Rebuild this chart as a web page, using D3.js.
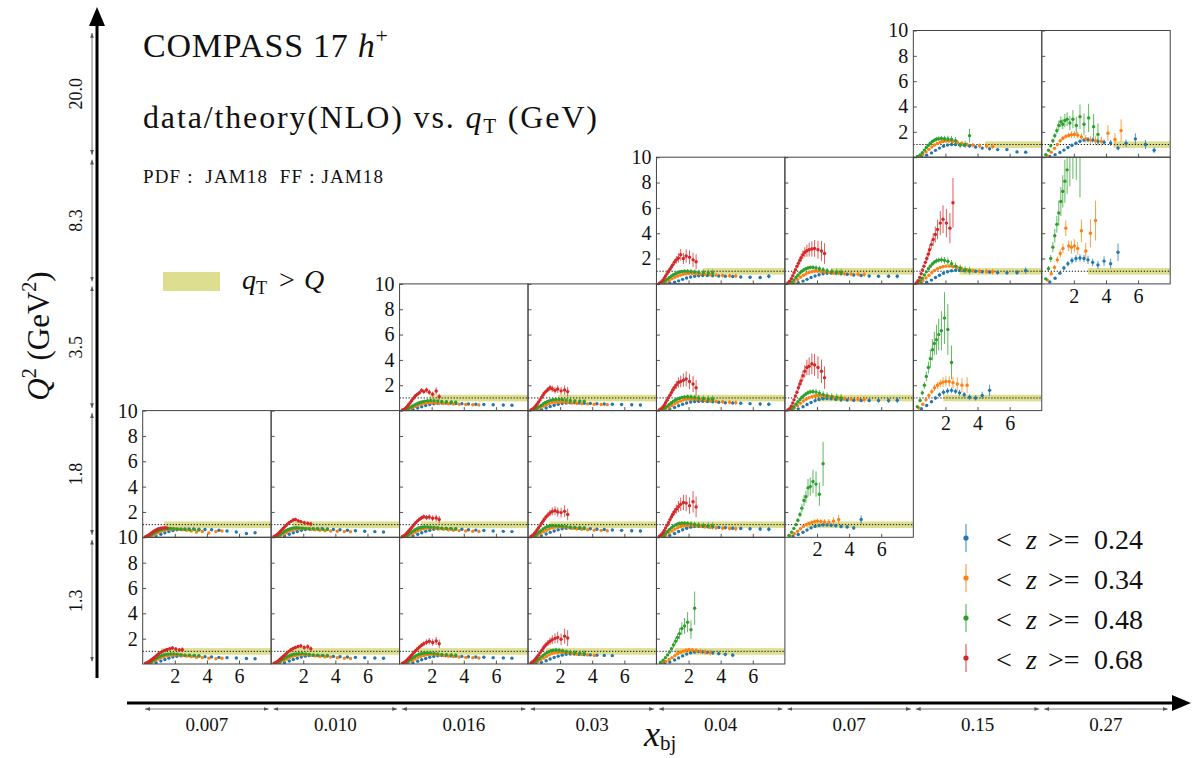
<!DOCTYPE html>
<html>
<head>
<meta charset="utf-8">
<script src="https://cdn.jsdelivr.net/npm/d3@7"></script>
<style>
  body { margin: 0; background: #fff; }
  svg { display: block; }
  text { font-family: 'Liberation Serif', 'DejaVu Serif', serif; fill: #111; }
</style>
</head>
<body>
<svg id="chart" width="1192" height="758"></svg>
<script>
// bins of the grid
const xbjBins = ['0.007', '0.010', '0.016', '0.03', '0.04', '0.07', '0.15', '0.27']
const q2Bins = ['1.3', '1.8', '3.5', '8.3', '20.0']
const q2Values = [1.3, 1.8, 3.5, 8.3, 20.0]
const zLabels = ['0.24', '0.34', '0.48', '0.68']
const zColors = ['#1f77b4', '#ff7f0e', '#2ca02c', '#d62728']
const yTicks = [2, 4, 6, 8, 10]
const xTicks = [2, 4, 6]

// qT (GeV) of the points, one grid per <z> bin
const qtBlue = [0.5, 0.83, 1.13, 1.38, 1.63, 1.88, 2.13, 2.38, 2.63, 2.88, 3.17, 3.5, 3.88, 4.29, 4.75, 5.25, 5.83, 6.46, 7.0]
const qtOrange = [0.35, 0.59, 0.79, 0.97, 1.15, 1.32, 1.5, 1.68, 1.85, 2.03, 2.24, 2.47, 2.74, 3.03, 3.35, 3.71, 4.12, 4.56, 4.94]
const qtGreen = [0.25, 0.42, 0.56, 0.69, 0.81, 0.94, 1.06, 1.19, 1.31, 1.44, 1.58, 1.75, 1.94, 2.15, 2.38, 2.63, 2.92, 3.23, 3.5]
const qtRed = [0.18, 0.29, 0.4, 0.49, 0.57, 0.66, 0.75, 0.84, 0.93, 1.01, 1.12, 1.24, 1.37, 1.51, 1.68, 1.85, 2.06, 2.28, 2.47]

// relative uncertainties per point
const relErrBlue = [0.06, 0.05, 0.04, 0.04, 0.04, 0.04, 0.04, 0.04, 0.04, 0.05, 0.05, 0.06, 0.06, 0.07, 0.08, 0.09, 0.1, 0.12, 0.14]
const relErrOrange = [0.06, 0.05, 0.04, 0.04, 0.04, 0.04, 0.04, 0.04, 0.05, 0.05, 0.05, 0.06, 0.07, 0.08, 0.09, 0.1, 0.11, 0.12, 0.14]
const relErrGreen = [0.06, 0.05, 0.04, 0.04, 0.04, 0.04, 0.05, 0.05, 0.05, 0.06, 0.06, 0.07, 0.08, 0.09, 0.1, 0.11, 0.12, 0.14, 0.16]
const relErrRed = [0.06, 0.05, 0.05, 0.05, 0.05, 0.05, 0.05, 0.06, 0.06, 0.07, 0.07, 0.08, 0.09, 0.1, 0.11, 0.12, 0.13, 0.15, 0.17]

// data/theory, [blue, orange, green, red] for each panel
const q13x007 = [
  [0.04, 0.12, 0.24, 0.36, 0.46, 0.55, 0.61, 0.65, 0.67, 0.66, 0.64, 0.62, 0.58, 0.56, 0.52, 0.5, 0.47, 0.44, 0.42],
  [0.06, 0.16, 0.28, 0.4, 0.5, 0.58, 0.64, 0.68, 0.7, 0.72, 0.7, 0.66, 0.62, 0.58, 0.52, 0.5, 0.46, 0.42, 0.45],
  [0.05, 0.13, 0.22, 0.32, 0.42, 0.52, 0.6, 0.67, 0.72, 0.76, 0.78, 0.8, 0.8, 0.78, 0.74, 0.7, 0.7, 0.68, 0.66],
  [0.06, 0.12, 0.2, 0.28, 0.36, 0.45, 0.54, 0.64, 0.74, 0.82, 0.92, 1.0, 1.06, 1.14, 1.2, 1.26, 1.18, 1.1, 1.12]
]
const q13x010 = [
  [0.04, 0.12, 0.24, 0.36, 0.46, 0.55, 0.62, 0.66, 0.68, 0.67, 0.66, 0.63, 0.6, 0.57, 0.55, 0.52, 0.5, 0.47, 0.45],
  [0.06, 0.16, 0.28, 0.4, 0.5, 0.6, 0.66, 0.7, 0.73, 0.74, 0.72, 0.68, 0.64, 0.6, 0.56, 0.55, 0.5, 0.46, 0.44],
  [0.05, 0.14, 0.24, 0.34, 0.44, 0.54, 0.62, 0.69, 0.74, 0.78, 0.8, 0.82, 0.82, 0.8, 0.76, 0.72, 0.7, 0.68, 0.68],
  [0.06, 0.13, 0.21, 0.3, 0.39, 0.49, 0.59, 0.7, 0.8, 0.9, 1.02, 1.12, 1.22, 1.3, 1.38, 1.42, 1.3, 1.36, 1.2]
]
const q13x016 = [
  [0.04, 0.11, 0.22, 0.34, 0.44, 0.54, 0.6, 0.65, 0.67, 0.66, 0.64, 0.62, 0.6, 0.57, 0.55, 0.53, 0.5, 0.48, 0.46],
  [0.06, 0.15, 0.27, 0.39, 0.5, 0.6, 0.67, 0.72, 0.75, 0.76, 0.74, 0.7, 0.66, 0.62, 0.58, 0.55, 0.52, 0.5, 0.47],
  [0.05, 0.14, 0.25, 0.36, 0.47, 0.58, 0.67, 0.75, 0.8, 0.84, 0.86, 0.87, 0.86, 0.84, 0.8, 0.76, 0.74, 0.72, 0.7],
  [0.06, 0.14, 0.24, 0.34, 0.45, 0.57, 0.69, 0.82, 0.95, 1.06, 1.2, 1.34, 1.48, 1.6, 1.72, 1.8, 1.7, 1.82, 1.6]
]
const q13x03 = [
  [0.05, 0.13, 0.26, 0.4, 0.52, 0.62, 0.7, 0.76, 0.78, 0.78, 0.76, 0.74, 0.72, 0.7, 0.68, 0.66],
  [0.07, 0.18, 0.32, 0.46, 0.6, 0.72, 0.82, 0.88, 0.92, 0.92, 0.9, 0.86, 0.82, 0.78, 0.74, 0.72, 0.68],
  [0.06, 0.16, 0.28, 0.42, 0.56, 0.68, 0.8, 0.9, 0.98, 1.04, 1.08, 1.1, 1.08, 1.04, 0.98, 0.94, 0.9, 0.86, 0.84],
  [0.08, 0.18, 0.3, 0.43, 0.57, 0.72, 0.88, 1.04, 1.2, 1.36, 1.52, 1.66, 1.8, 1.92, 2.02, 2.1, 1.95, 2.2, 2.05]
]
const q13x04 = [
  [0.06, 0.16, 0.32, 0.48, 0.64, 0.78, 0.88, 0.94, 0.98, 0.96, 0.92, 0.88, 0.82, 0.76, 0.7],
  [0.08, 0.2, 0.35, 0.5, 0.66, 0.8, 0.92, 1.02, 1.08, 1.12, 1.1, 1.06, 1.0, 0.95, 0.9],
  [0.12, 0.3, 0.5, 0.72, 0.95, 1.2, 1.5, 1.8, 2.1, 2.4, 2.8, 3.0, 3.3, 2.7, 4.4],
  []
]
const q18x007 = [
  [0.04, 0.12, 0.24, 0.36, 0.46, 0.54, 0.6, 0.64, 0.66, 0.66, 0.66, 0.64, 0.62, 0.6, 0.56, 0.5, 0.42, 0.3, 0.36],
  [0.05, 0.14, 0.26, 0.38, 0.48, 0.56, 0.62, 0.64, 0.66, 0.66, 0.64, 0.6, 0.56, 0.5, 0.42, 0.46, 0.34, 0.46, 0.5],
  [0.04, 0.12, 0.22, 0.32, 0.42, 0.5, 0.57, 0.62, 0.66, 0.68, 0.7, 0.7, 0.68, 0.66, 0.64, 0.62, 0.6, 0.62, 0.58],
  [0.05, 0.12, 0.2, 0.28, 0.36, 0.44, 0.52, 0.58, 0.64, 0.68, 0.72, 0.74, 0.76, 0.74]
]
const q18x010 = [
  [0.04, 0.12, 0.24, 0.36, 0.46, 0.55, 0.61, 0.66, 0.68, 0.68, 0.67, 0.65, 0.62, 0.6, 0.56, 0.52, 0.48, 0.45, 0.42],
  [0.05, 0.14, 0.26, 0.38, 0.5, 0.58, 0.64, 0.68, 0.7, 0.7, 0.68, 0.64, 0.6, 0.56, 0.52, 0.5, 0.48, 0.45, 0.44],
  [0.04, 0.12, 0.22, 0.33, 0.44, 0.54, 0.62, 0.68, 0.72, 0.74, 0.75, 0.74, 0.72, 0.7, 0.68, 0.66, 0.65, 0.64, 0.62],
  [0.06, 0.14, 0.24, 0.35, 0.46, 0.58, 0.7, 0.82, 0.94, 1.04, 1.16, 1.26, 1.36, 1.4, 1.3, 1.24, 1.16, 1.1, 1.05]
]
const q18x016 = [
  [0.04, 0.12, 0.24, 0.36, 0.47, 0.56, 0.63, 0.67, 0.69, 0.69, 0.68, 0.66, 0.63, 0.6, 0.57, 0.54, 0.5, 0.47, 0.45],
  [0.05, 0.15, 0.27, 0.4, 0.52, 0.61, 0.68, 0.72, 0.74, 0.74, 0.72, 0.68, 0.64, 0.6, 0.56, 0.53, 0.5, 0.48, 0.46],
  [0.04, 0.13, 0.24, 0.36, 0.47, 0.58, 0.66, 0.73, 0.78, 0.8, 0.82, 0.82, 0.8, 0.78, 0.75, 0.72, 0.7, 0.68, 0.67],
  [0.06, 0.15, 0.26, 0.38, 0.5, 0.63, 0.76, 0.9, 1.04, 1.16, 1.3, 1.42, 1.54, 1.62, 1.56, 1.6, 1.5, 1.52, 1.4]
]
const q18x03 = [
  [0.04, 0.13, 0.26, 0.39, 0.5, 0.6, 0.67, 0.72, 0.74, 0.74, 0.72, 0.7, 0.67, 0.64, 0.61, 0.58, 0.55, 0.52, 0.5],
  [0.05, 0.16, 0.3, 0.44, 0.56, 0.66, 0.74, 0.79, 0.82, 0.82, 0.8, 0.76, 0.72, 0.68, 0.64, 0.6, 0.57, 0.55, 0.52],
  [0.05, 0.14, 0.27, 0.4, 0.53, 0.65, 0.75, 0.83, 0.88, 0.91, 0.92, 0.92, 0.9, 0.87, 0.84, 0.8, 0.77, 0.75, 0.73],
  [0.07, 0.17, 0.3, 0.44, 0.59, 0.75, 0.92, 1.1, 1.26, 1.42, 1.6, 1.76, 1.92, 2.04, 2.1, 2.0, 1.95, 2.05, 1.8]
]
const q18x04 = [
  [0.05, 0.15, 0.3, 0.46, 0.6, 0.72, 0.8, 0.85, 0.87, 0.87, 0.85, 0.82, 0.78, 0.75, 0.72, 0.7, 0.68, 0.66, 0.64],
  [0.06, 0.18, 0.34, 0.5, 0.64, 0.76, 0.85, 0.91, 0.94, 0.95, 0.93, 0.9, 0.86, 0.82, 0.78, 0.75, 0.72, 0.7, 0.68],
  [0.05, 0.16, 0.3, 0.46, 0.62, 0.76, 0.88, 0.98, 1.05, 1.1, 1.12, 1.12, 1.1, 1.06, 1.02, 0.98, 0.94, 0.92, 0.9],
  [0.08, 0.2, 0.36, 0.54, 0.74, 0.95, 1.16, 1.38, 1.6, 1.8, 2.02, 2.22, 2.42, 2.6, 2.75, 2.7, 2.5, 2.8, 2.4]
]
const q18x07 = [
  [0.08, 0.22, 0.4, 0.58, 0.74, 0.86, 0.94, 0.98, 0.98, 0.95, 0.92, 0.86, 0.82, 0.74, 1.4],
  [0.1, 0.28, 0.48, 0.68, 0.86, 1.0, 1.1, 1.18, 1.24, 1.28, 1.26, 1.22, 1.2, 1.28, 1.4],
  [0.15, 0.4, 0.7, 1.0, 1.35, 1.8, 2.3, 2.9, 3.2, 3.9, 4.0, 4.4, 4.2, 3.4, 5.8],
  []
]
const q35x016 = [
  [0.03, 0.1, 0.2, 0.3, 0.4, 0.48, 0.54, 0.58, 0.6, 0.6, 0.58, 0.56, 0.55, 0.52, 0.5, 0.48, 0.46, 0.44, 0.42],
  [0.04, 0.12, 0.22, 0.32, 0.42, 0.5, 0.56, 0.6, 0.62, 0.62, 0.6, 0.58, 0.56, 0.54, 0.52, 0.5, 0.48, 0.46, 0.45],
  [0.04, 0.1, 0.18, 0.27, 0.36, 0.45, 0.53, 0.6, 0.66, 0.71, 0.75, 0.78, 0.8, 0.78, 0.76, 0.72, 0.7, 0.68, 0.66],
  [0.05, 0.12, 0.22, 0.35, 0.48, 0.62, 0.78, 0.94, 1.08, 1.2, 1.3, 1.42, 1.6, 1.5, 1.62, 1.45, 1.3, 1.55, 1.1]
]
const q35x03 = [
  [0.03, 0.1, 0.21, 0.32, 0.42, 0.5, 0.56, 0.6, 0.62, 0.62, 0.6, 0.58, 0.56, 0.54, 0.52, 0.5, 0.48, 0.46, 0.44],
  [0.04, 0.13, 0.24, 0.35, 0.46, 0.55, 0.62, 0.66, 0.68, 0.68, 0.66, 0.63, 0.6, 0.58, 0.55, 0.53, 0.5, 0.48, 0.47],
  [0.04, 0.11, 0.2, 0.3, 0.41, 0.52, 0.62, 0.7, 0.77, 0.82, 0.86, 0.88, 0.88, 0.86, 0.83, 0.8, 0.77, 0.75, 0.73],
  [0.05, 0.13, 0.24, 0.38, 0.52, 0.68, 0.86, 1.04, 1.22, 1.38, 1.52, 1.66, 1.8, 1.72, 1.6, 1.7, 1.56, 1.62, 1.5]
]
const q35x04 = [
  [0.04, 0.12, 0.24, 0.38, 0.5, 0.6, 0.68, 0.72, 0.74, 0.74, 0.72, 0.7, 0.66, 0.62, 0.6, 0.58, 0.55, 0.52, 0.5],
  [0.05, 0.14, 0.26, 0.4, 0.54, 0.66, 0.76, 0.84, 0.9, 0.92, 0.92, 0.88, 0.84, 0.8, 0.76, 0.72, 0.7, 0.66, 0.62],
  [0.05, 0.13, 0.24, 0.36, 0.5, 0.62, 0.74, 0.84, 0.92, 0.98, 1.04, 1.08, 1.1, 1.08, 1.04, 1.0, 0.96, 0.92, 0.9],
  [0.06, 0.15, 0.28, 0.44, 0.62, 0.82, 1.02, 1.22, 1.42, 1.62, 1.82, 2.02, 2.22, 2.3, 2.4, 2.5, 2.3, 2.1, 1.8]
]
const q35x07 = [
  [0.04, 0.14, 0.3, 0.48, 0.64, 0.78, 0.88, 0.94, 0.96, 0.94, 0.9, 0.86, 0.84, 0.82, 0.8, 0.8, 0.8, 0.8, 0.82],
  [0.06, 0.2, 0.38, 0.58, 0.76, 0.9, 1.02, 1.1, 1.16, 1.2, 1.2, 1.16, 1.1, 1.04, 0.98, 0.94, 0.92, 0.9, 0.88],
  [0.05, 0.15, 0.3, 0.5, 0.7, 0.88, 1.05, 1.2, 1.32, 1.42, 1.48, 1.5, 1.46, 1.38, 1.28, 1.18, 1.1, 1.04, 1.0],
  [0.05, 0.15, 0.35, 0.6, 0.85, 1.15, 1.45, 1.8, 2.1, 2.35, 2.75, 3.1, 3.4, 3.5, 3.7, 3.6, 3.4, 3.1, 2.6]
]
const q35x15 = [
  [0.15, 0.4, 0.7, 1.0, 1.25, 1.45, 1.55, 1.6, 1.52, 1.4, 1.25, 1.05, 1.0, 1.2, 1.6],
  [0.2, 0.5, 0.85, 1.2, 1.5, 1.8, 2.0, 2.15, 2.25, 2.3, 2.3, 2.2, 2.1, 2.0, 2.0],
  [0.3, 0.8, 1.4, 2.0, 2.7, 3.4, 4.1, 4.8, 5.3, 5.6, 6.0, 6.3, 7.3, 6.4, 3.8],
  []
]
const q83x04 = [
  [0.02, 0.06, 0.14, 0.24, 0.36, 0.46, 0.54, 0.6, 0.64, 0.66, 0.66, 0.64, 0.62, 0.6, 0.58, 0.55, 0.52, 0.5, 0.6],
  [0.05, 0.14, 0.26, 0.4, 0.52, 0.62, 0.7, 0.76, 0.8, 0.82, 0.82, 0.8, 0.76, 0.74, 0.72, 0.7, 0.66, 0.64, 0.62],
  [0.05, 0.14, 0.26, 0.38, 0.5, 0.62, 0.72, 0.8, 0.88, 0.94, 0.98, 1.0, 1.0, 0.98, 0.95, 0.92, 0.9, 0.88, 0.86],
  [0.06, 0.16, 0.3, 0.46, 0.62, 0.8, 0.98, 1.16, 1.34, 1.5, 1.72, 1.9, 2.05, 2.3, 2.0, 2.2, 2.1, 1.9, 1.75]
]
const q83x07 = [
  [0.03, 0.1, 0.22, 0.36, 0.5, 0.62, 0.72, 0.8, 0.84, 0.86, 0.86, 0.82, 0.76, 0.7, 0.66, 0.62, 0.6, 0.6, 0.6],
  [0.05, 0.18, 0.34, 0.52, 0.68, 0.8, 0.9, 0.96, 1.0, 1.0, 0.98, 0.94, 0.9, 0.86, 0.84, 0.8, 0.78, 0.76, 0.74],
  [0.05, 0.16, 0.32, 0.5, 0.68, 0.86, 1.0, 1.12, 1.2, 1.26, 1.3, 1.3, 1.26, 1.2, 1.12, 1.04, 0.98, 0.94, 0.9],
  [0.08, 0.22, 0.42, 0.64, 0.88, 1.12, 1.38, 1.62, 1.86, 2.06, 2.3, 2.5, 2.62, 2.7, 2.76, 2.8, 2.7, 2.6, 2.4]
]
const q83x15 = [
  [0.04, 0.14, 0.3, 0.5, 0.68, 0.84, 0.96, 1.04, 1.08, 1.08, 1.06, 1.02, 1.0, 0.96, 0.94, 0.9, 0.88, 0.9, 1.05],
  [0.08, 0.25, 0.46, 0.68, 0.88, 1.06, 1.2, 1.3, 1.36, 1.4, 1.4, 1.36, 1.3, 1.2, 1.1, 1.04, 1.0, 0.98, 0.96],
  [0.08, 0.25, 0.45, 0.7, 0.95, 1.2, 1.4, 1.58, 1.72, 1.82, 1.88, 1.9, 1.86, 1.78, 1.6, 1.4, 1.25, 1.12, 1.05],
  [0.08, 0.25, 0.5, 0.8, 1.1, 1.4, 1.7, 2.0, 2.35, 2.7, 3.1, 3.5, 3.9, 4.3, 4.8, 5.1, 4.8, 4.4, 6.4]
]
const q83x27 = [
  [0.15, 0.45, 0.85, 1.25, 1.6, 1.85, 2.0, 2.05, 2.0, 1.9, 1.7, 1.5, 1.8, 1.6, 2.5],
  [0.3, 0.8, 1.3, 1.9, 2.4, 2.8, 4.4, 3.0, 2.9, 3.0, 2.8, 4.2, 2.6, 4.0, 5.0],
  [0.4, 1.2, 2.0, 2.9, 3.8, 4.7, 5.6, 6.5, 7.3, 8.1, 9.0, 10.2, 11.5, 12.0, 10.5],
  []
]
const q20x15 = [
  [0.04, 0.16, 0.34, 0.54, 0.72, 0.86, 0.96, 1.0, 1.0, 0.98, 0.94, 0.88, 0.8, 0.72, 0.66, 0.6, 0.6, 0.42, 0.4],
  [0.06, 0.22, 0.42, 0.62, 0.8, 0.96, 1.08, 1.18, 1.24, 1.28, 1.28, 1.24, 1.18, 1.1, 1.0, 0.95, 0.9, 0.88, 0.85],
  [0.05, 0.18, 0.36, 0.56, 0.76, 0.94, 1.1, 1.24, 1.34, 1.42, 1.46, 1.48, 1.46, 1.44, 1.4, 1.3, 0.95, 1.0, 1.7],
  []
]
const q20x27 = [
  [0.05, 0.2, 0.38, 0.56, 0.76, 0.94, 1.1, 1.25, 1.35, 1.38, 1.35, 1.25, 1.18, 1.12, 0.72, 1.1, 1.45, 1.0, 0.55],
  [0.1, 0.4, 0.7, 1.0, 1.3, 1.5, 1.64, 1.72, 1.78, 1.8, 1.74, 1.6, 1.45, 1.35, 1.3, 1.25, 1.9, 1.4, 2.1],
  [0.2, 0.55, 0.9, 1.3, 1.7, 2.1, 2.5, 2.8, 2.6, 2.9, 3.0, 2.7, 3.0, 2.5, 3.2, 2.6, 3.1, 2.4, 1.8],
  []
]

// panel table: row = Q² bin, col = x_bj bin, err = uncertainty scale of that bin
const panels = [
  { row: 0, col: 0, err: 1, data: q13x007 },
  { row: 0, col: 1, err: 1, data: q13x010 },
  { row: 0, col: 2, err: 1.2, data: q13x016 },
  { row: 0, col: 3, err: 1.8, data: q13x03 },
  { row: 0, col: 4, err: 3, data: q13x04 },
  { row: 1, col: 0, err: 1, data: q18x007 },
  { row: 1, col: 1, err: 1, data: q18x010 },
  { row: 1, col: 2, err: 1.2, data: q18x016 },
  { row: 1, col: 3, err: 1.5, data: q18x03 },
  { row: 1, col: 4, err: 2, data: q18x04 },
  { row: 1, col: 5, err: 3, data: q18x07 },
  { row: 2, col: 2, err: 1.2, data: q35x016 },
  { row: 2, col: 3, err: 1.5, data: q35x03 },
  { row: 2, col: 4, err: 2, data: q35x04 },
  { row: 2, col: 5, err: 2, data: q35x07 },
  { row: 2, col: 6, err: 3.5, data: q35x15 },
  { row: 3, col: 4, err: 2, data: q83x04 },
  { row: 3, col: 5, err: 2, data: q83x07 },
  { row: 3, col: 6, err: 1.8, data: q83x15 },
  { row: 3, col: 7, err: 3.5, data: q83x27 },
  { row: 4, col: 6, err: 2, data: q20x15 },
  { row: 4, col: 7, err: 3, data: q20x27 }
]

const qtGrids = [qtBlue, qtOrange, qtGreen, qtRed]
const relErrs = [relErrBlue, relErrOrange, relErrGreen, relErrRed]

const svg = d3.select('#chart')

const colX = d3.scaleLinear().domain([0, 8]).range([142.7, 1170.2])
const rowY = d3.scaleLinear().domain([0, 5]).range([664, 30.5])
const pw = colX(1) - colX(0)
const ph = rowY(0) - rowY(1)
const x = d3.scaleLinear().domain([0, 8]).range([0, pw])
const y = d3.scaleLinear().domain([0, 10]).range([ph, 0])

// first panel of each row gets y labels, lowest of each column gets x labels
const firstCol = {}
const lowestRow = {}
panels.forEach((p) => {
  firstCol[p.row] = Math.min(firstCol[p.row] ?? 99, p.col)
  lowestRow[p.col] = Math.min(lowestRow[p.col] ?? 99, p.row)
})

const defs = svg.append('defs')
defs.append('marker')
  .attr('id', 'tip')
  .attr('viewBox', '0 0 10 10')
  .attr('refX', 10).attr('refY', 5)
  .attr('markerWidth', 6).attr('markerHeight', 6)
  .attr('orient', 'auto-start-reverse')
  .append('path').attr('d', 'M0,1 L10,5 L0,9 z').attr('fill', '#555')

panels.forEach((p, n) => {
  const g = svg.append('g').attr('transform', `translate(${colX(p.col)},${rowY(p.row + 1)})`)
  defs.append('clipPath').attr('id', `clip-${n}`)
    .append('rect').attr('width', pw).attr('height', ph)
  const inner = g.append('g').attr('clip-path', `url(#clip-${n})`)

  // qT > Q band
  const Q = Math.sqrt(q2Values[p.row])
  inner.append('rect')
    .attr('x', x(Q)).attr('y', y(1.25))
    .attr('width', x(8) - x(Q)).attr('height', y(0.73) - y(1.25))
    .attr('fill', '#bcbd22').attr('opacity', 0.5)
  inner.append('line')
    .attr('x1', x(0)).attr('x2', x(8)).attr('y1', y(1)).attr('y2', y(1))
    .attr('stroke', '#000').attr('stroke-width', 0.9).attr('stroke-dasharray', '1.3,1.7')

  p.data.forEach((vals, k) => {
    const pts = vals.map((v, i) => ({ qt: qtGrids[k][i], v, e: v * relErrs[k][i] * p.err }))
    const s = inner.append('g')
    s.selectAll('line').data(pts).join('line')
      .attr('x1', (d) => x(d.qt)).attr('x2', (d) => x(d.qt))
      .attr('y1', (d) => y(d.v - d.e)).attr('y2', (d) => y(d.v + d.e))
      .attr('stroke', zColors[k]).attr('stroke-width', 1).attr('opacity', 0.75)
    s.selectAll('circle').data(pts).join('circle')
      .attr('cx', (d) => x(d.qt)).attr('cy', (d) => y(d.v))
      .attr('r', 1.7).attr('fill', zColors[k])
  })

  const yAxis = d3.axisLeft(y).tickValues(yTicks).tickSizeInner(-3.5).tickSizeOuter(0).tickPadding(5)
  if (firstCol[p.row] !== p.col) yAxis.tickFormat(() => '')
  const ya = g.append('g').call(yAxis)
  ya.select('.domain').remove()
  ya.selectAll('.tick line').attr('stroke', '#555')
  ya.selectAll('.tick text').attr('font-size', 20)

  const xAxis = d3.axisBottom(x).tickValues(xTicks).tickSizeInner(-3.5).tickSizeOuter(0).tickPadding(5)
  if (lowestRow[p.col] !== p.row) xAxis.tickFormat(() => '')
  const xa = g.append('g').attr('transform', `translate(0,${ph})`).call(xAxis)
  xa.select('.domain').remove()
  xa.selectAll('.tick line').attr('stroke', '#555')
  xa.selectAll('.tick text').attr('font-size', 20)

  g.append('rect').attr('width', pw).attr('height', ph)
    .attr('fill', 'none').attr('stroke', '#444').attr('stroke-width', 1)
})

// titles
const t1 = svg.append('text').attr('x', 143).attr('y', 57).attr('font-size', 34)
  .attr('textLength', 245).attr('lengthAdjust', 'spacing')
t1.append('tspan').text('COMPASS 17 ')
t1.append('tspan').attr('font-style', 'italic').text('h')
t1.append('tspan').attr('font-size', 22).attr('dy', -14).text('+')

const t2 = svg.append('text').attr('x', 143).attr('y', 128).attr('font-size', 32)
  .attr('textLength', 454).attr('lengthAdjust', 'spacing')
t2.append('tspan').text('data/theory(NLO) vs. ')
t2.append('tspan').attr('font-style', 'italic').text('q')
t2.append('tspan').attr('font-size', 21).attr('dy', 5).text('T')
t2.append('tspan').attr('dy', -5).text(' (GeV)')

svg.append('text').attr('x', 143).attr('y', 183).attr('font-size', 19)
  .attr('textLength', 240).attr('lengthAdjust', 'spacing')
  .style('white-space', 'pre')
  .text('PDF :  JAM18  FF : JAM18')

// qT > Q legend
svg.append('rect').attr('x', 163).attr('y', 272).attr('width', 57).attr('height', 19)
  .attr('fill', '#bcbd22').attr('opacity', 0.5)
const lq = svg.append('text').attr('y', 289).attr('font-size', 28)
lq.append('tspan').attr('x', 242).attr('font-style', 'italic').text('q')
lq.append('tspan').attr('font-size', 18).attr('dy', 5).text('T')
lq.append('tspan').attr('x', 279).attr('dy', -5).text('>')
lq.append('tspan').attr('x', 304).attr('font-style', 'italic').text('Q')

// <z> legend
zLabels.forEach((lab, k) => {
  const cy = 538 + k * 40
  svg.append('line').attr('x1', 966).attr('x2', 966).attr('y1', cy - 14).attr('y2', cy + 14)
    .attr('stroke', zColors[k]).attr('stroke-width', 1.2).attr('opacity', 0.75)
  svg.append('circle').attr('cx', 966).attr('cy', cy).attr('r', 2.6).attr('fill', zColors[k])
  const t = svg.append('text').attr('y', cy + 11).attr('font-size', 28)
  t.append('tspan').attr('x', 996).text('<')
  t.append('tspan').attr('x', 1026).attr('font-style', 'italic').text('z')
  t.append('tspan').attr('x', 1048).text('>=')
  t.append('tspan').attr('x', 1094).text(lab)
})

// Q² axis
svg.append('line').attr('x1', 97).attr('x2', 97).attr('y1', 678).attr('y2', 24)
  .attr('stroke', '#000').attr('stroke-width', 3)
svg.append('path').attr('d', 'M89,26 L97,7 L105,26 Z').attr('fill', '#000')
q2Bins.forEach((lab, r) => {
  svg.append('line').attr('x1', 92).attr('x2', 92)
    .attr('y1', rowY(r) - 2.5).attr('y2', rowY(r + 1) + 2.5)
    .attr('stroke', '#555').attr('stroke-width', 0.8)
    .attr('marker-start', 'url(#tip)').attr('marker-end', 'url(#tip)')
  const cy = (rowY(r) + rowY(r + 1)) / 2
  svg.append('text').attr('transform', `translate(82,${cy}) rotate(-90)`)
    .attr('text-anchor', 'middle').attr('font-size', 18).text(lab)
})
const qLab = svg.append('text').attr('transform', 'translate(49,336) rotate(-90)')
  .attr('text-anchor', 'middle').attr('font-size', 31)
qLab.append('tspan').attr('font-style', 'italic').text('Q')
qLab.append('tspan').attr('font-size', 20).attr('dy', -13).text('2')
qLab.append('tspan').attr('dy', 13).text(' (GeV')
qLab.append('tspan').attr('font-size', 20).attr('dy', -13).text('2')
qLab.append('tspan').attr('dy', 13).text(')')

// x_bj axis
svg.append('line').attr('x1', 127).attr('x2', 1175).attr('y1', 703).attr('y2', 703)
  .attr('stroke', '#000').attr('stroke-width', 3)
svg.append('path').attr('d', 'M1172,695 L1191,703 L1172,711 Z').attr('fill', '#000')
xbjBins.forEach((lab, c) => {
  svg.append('line').attr('y1', 709).attr('y2', 709)
    .attr('x1', colX(c) + 2.5).attr('x2', colX(c + 1) - 2.5)
    .attr('stroke', '#555').attr('stroke-width', 0.8)
    .attr('marker-start', 'url(#tip)').attr('marker-end', 'url(#tip)')
  svg.append('text').attr('x', (colX(c) + colX(c + 1)) / 2).attr('y', 731)
    .attr('text-anchor', 'middle').attr('font-size', 19).text(lab)
})
const xLab = svg.append('text').attr('x', 644).attr('y', 746).attr('font-size', 36)
xLab.append('tspan').attr('font-style', 'italic').text('x')
xLab.append('tspan').attr('font-size', 21).attr('dy', 4).text('bj')
</script>
</body>
</html>
